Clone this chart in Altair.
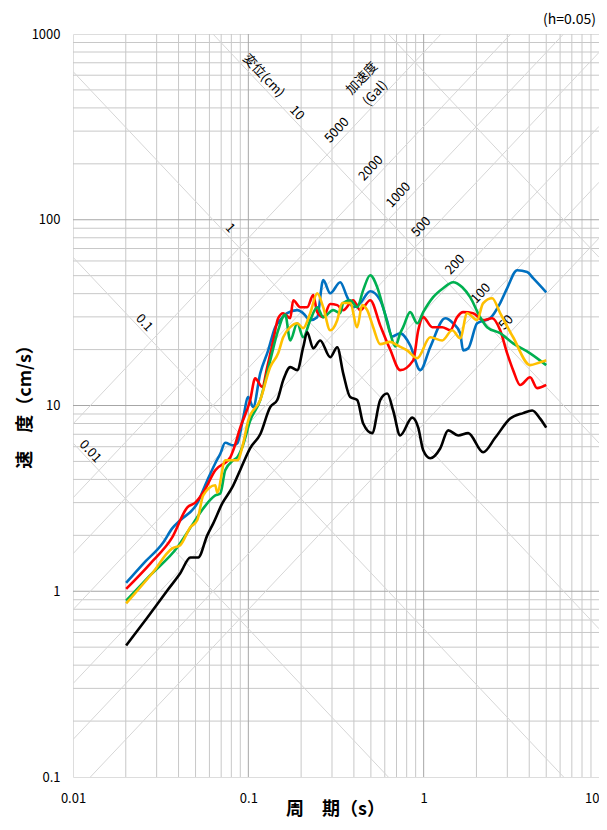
import altair as alt
import numpy as np
import pandas as pd

FONT = "Noto Sans CJK JP"

# ---------------- data ----------------
t_blue = [0.0201, 0.0252, 0.0327, 0.0368, 0.0409, 0.0511, 0.0583, 0.0648, 0.0692, 0.0738, 0.082, 0.0865,
          0.0935, 0.0998, 0.1066, 0.1169, 0.1298, 0.1423, 0.152, 0.1667, 0.1901, 0.2056, 0.2254, 0.2471,
          0.2673, 0.2931, 0.3342, 0.3664, 0.3963, 0.4345, 0.4955, 0.565, 0.6194, 0.66, 0.7345, 0.8375,
          0.956, 1.09, 1.327, 1.473, 1.615, 1.679, 1.795, 2.019, 2.393, 2.731, 3.0, 3.414, 3.892, 4.209, 5.0]
v_blue = [1.11, 1.41, 1.83, 2.18, 2.41, 2.97, 3.95, 4.89, 5.5, 6.3, 6.1, 6.25,
          8.6, 11.1, 9.8, 14.9, 19.8, 26.4, 28.8, 31.4, 32.6, 31.4, 28.8, 29.9,
          47.3, 40.2, 46.1, 38.3, 33.8, 35.6, 41.2, 36.9, 28.5, 23.5, 24.5, 21.1,
          15.5, 20.6, 29.5, 27.7, 24.5, 19.8, 20.3, 27.7, 29.5, 35.6, 43.0, 53.5, 52.3, 48.5, 40.7]

t_red = [0.0201, 0.0276, 0.0368, 0.0449, 0.0498, 0.0553, 0.0648, 0.0789, 0.082, 0.0899, 0.1025, 0.1094,
         0.12, 0.1282, 0.1387, 0.1479, 0.1581, 0.1734, 0.1803, 0.1977, 0.2168, 0.2344, 0.2471, 0.2673,
         0.2931, 0.3214, 0.3476, 0.3963, 0.4345, 0.4955, 0.565, 0.644, 0.7345, 0.8718, 0.931, 0.994,
         1.119, 1.276, 1.416, 1.553, 1.679, 1.915, 2.183, 2.459, 2.731, 2.994, 3.238, 3.551, 4.047,
         4.438, 5.0]
v_red = [1.03, 1.41, 1.95, 2.83, 3.0, 3.4, 4.48, 5.26, 5.74, 7.6, 10.7, 14.0,
         12.6, 16.1, 22.4, 29.5, 31.4, 29.5, 36.9, 33.8, 33.8, 39.3, 31.8, 29.9,
         35.2, 34.7, 32.6, 36.9, 32.6, 36.9, 27.0, 20.0, 15.5, 17.5, 25.4, 29.9,
         26.4, 26.4, 25.4, 29.9, 31.8, 31.4, 28.8, 29.5, 25.4, 19.1, 15.5, 12.9, 14.2,
         12.4, 12.9]

t_green = [0.0201, 0.0276, 0.0393, 0.0485, 0.0553, 0.0648, 0.0692, 0.0738, 0.082, 0.0865, 0.0923, 0.1025,
           0.1169, 0.1333, 0.1479, 0.1622, 0.1734, 0.1901, 0.2056, 0.2254, 0.2471, 0.2673, 0.3048, 0.3342,
           0.3476, 0.381, 0.4178, 0.4519, 0.4955, 0.5433, 0.5875, 0.6442, 0.69, 0.7345, 0.7638, 0.8375,
           0.9193, 0.994, 1.133, 1.291, 1.473, 1.66, 1.841, 2.099, 2.301, 2.731, 3.238, 4.047, 5.0]
v_green = [0.89, 1.22, 1.72, 2.32, 2.79, 3.28, 3.36, 4.48, 5.07, 5.26, 5.96, 8.3,
           10.7, 17.5, 25.4, 30.9, 22.4, 27.7, 23.3, 28.8, 33.8, 29.9, 32.6, 31.4,
           35.6, 36.9, 33.8, 41.8, 50.3, 43.3, 33.8, 24.5, 20.8, 24.5, 26.4, 31.8,
           27.7, 31.8, 38.3, 42.8, 46.1, 43.3, 38.3, 29.9, 26.4, 24.5, 21.6, 19.1, 16.5]

t_orange = [0.0201, 0.0283, 0.0368, 0.0409, 0.0467, 0.0511, 0.0553, 0.0648, 0.0665, 0.0738, 0.0865, 0.0935,
            0.0998, 0.1169, 0.1333, 0.1479, 0.1581, 0.1734, 0.1901, 0.2056, 0.2254, 0.2471, 0.2673, 0.2931,
            0.3214, 0.3428, 0.381, 0.4178, 0.4457, 0.4764, 0.5153, 0.565, 0.644, 0.706, 0.805, 0.919,
            1.09, 1.276, 1.455, 1.615, 1.77, 2.019, 2.183, 2.459, 2.731, 3.238, 4.047, 4.615, 5.0]
v_orange = [0.86, 1.25, 1.7, 1.77, 2.21, 2.41, 3.28, 3.72, 3.4, 5.07, 5.07, 6.25,
            8.3, 10.7, 16.1, 19.1, 23.3, 26.4, 27.7, 26.1, 31.4, 40.2, 33.8, 25.4,
            28.8, 35.6, 35.6, 26.4, 34.7, 32.6, 26.4, 21.4, 22.0, 21.1, 19.8, 18.0,
            23.3, 22.4, 25.4, 23.0, 31.4, 28.8, 35.6, 37.8, 31.4, 23.3, 16.5, 17.1, 17.5]

t_black = [0.0201, 0.0265, 0.0345, 0.0409, 0.0467, 0.0518, 0.0583, 0.0631, 0.071, 0.0809, 0.0899, 0.1025,
           0.1169, 0.1333, 0.1462, 0.1581, 0.1734, 0.1901, 0.2056, 0.2168, 0.2344, 0.257, 0.2931, 0.3214,
           0.3476, 0.381, 0.4178, 0.4519, 0.5082, 0.565, 0.6194, 0.67, 0.7345, 0.8604, 0.931, 0.994,
           1.09, 1.242, 1.38, 1.574, 1.795, 2.183, 2.557, 3.114, 3.693, 4.159, 4.615, 5.0]
v_black = [0.51, 0.72, 1.01, 1.25, 1.52, 1.52, 2.0, 2.32, 2.97, 3.62, 4.5, 5.9,
           7.0, 9.8, 10.7, 13.7, 16.1, 15.5, 20.6, 24.8, 20.3, 22.4, 18.2, 20.6,
           14.9, 11.1, 10.7, 8.0, 7.1, 10.7, 11.6, 9.4, 6.9, 8.6, 7.6, 5.74,
           5.2, 5.87, 7.35, 6.9, 7.1, 5.6, 6.7, 8.5, 9.1, 9.4, 8.5, 7.6]

series = [
    ("s1", "#0070C0", t_blue, v_blue),
    ("s2", "#FF0000", t_red, v_red),
    ("s3", "#00B050", t_green, v_green),
    ("s4", "#FFC000", t_orange, v_orange),
    ("s5", "#000000", t_black, v_black),
]

# tripartite reference values
disp_values = [0.01, 0.1, 1, 10, 100]            # displacement (cm)
acc_values = [50, 100, 200, 500, 1000, 2000, 5000]  # acceleration (Gal)

disp_label_vals = [10, 1, 0.1, 0.01]
disp_label_T = [0.189, 0.0788, 0.0255, 0.01255]
acc_label_vals = [5000, 2000, 1000, 500, 200, 100, 50]
acc_label_T = [0.320, 0.500, 0.718, 0.968, 1.512, 2.12, 2.953]

x_ticks = [0.01, 0.1, 1, 10]
y_ticks = [0.1, 1, 10, 100, 1000]

# ---------------- scales / axes ----------------
T_MIN, T_MAX = 0.01, 10.0
V_MIN, V_MAX = 0.1, 1000.0
xscale = alt.Scale(type="log", domain=[T_MIN, T_MAX], nice=False)
yscale = alt.Scale(type="log", domain=[V_MIN, V_MAX], nice=False)

W, H = 526, 743

xaxis = alt.Axis(values=x_ticks, format="~g", grid=False, ticks=False, tickSize=0, domain=False,
                 labelFlush=False, labelOverlap=False, labelFontSize=13, labelPadding=15,
                 labelAlign=alt.ExprRef("datum.value >= 10 ? 'right' : 'center'"),
                 labelColor="#000000", labelFont=FONT,
                 title="周\u3000期（s）", titleFont=FONT, titleFontSize=18, titleFontWeight="bold",
                 titleX=262, titleY=32, titleBaseline="middle", titleAlign="center", titleColor="#000000")
yaxis = alt.Axis(values=y_ticks, format="~g", grid=False, ticks=False, tickSize=0, domain=False,
                 labelOverlap=False, labelFontSize=13, labelPadding=13, labelColor="#000000",
                 labelFont=FONT,
                 title="速\u3000度（cm/s）", titleFont=FONT, titleFontSize=18, titleFontWeight="bold",
                 titleX=-48, titleY=368, titleAngle=270, titleBaseline="middle", titleAlign="center",
                 titleColor="#000000")

# ---------------- grid ----------------
minor_T = [m * 10.0 ** k for k in (-2, -1, 0) for m in range(2, 10)]
major_T = [0.1, 1]
minor_V = [m * 10.0 ** k for k in (-1, 0, 1, 2) for m in range(2, 10)]
major_V = [1, 10, 100]

def vrules(vals, color):
    return alt.Chart(pd.DataFrame({"T": vals})).mark_rule(color=color, strokeWidth=1).encode(
        x=alt.X("T:Q", scale=xscale, axis=xaxis))

def hrules(vals, color):
    return alt.Chart(pd.DataFrame({"V": vals})).mark_rule(color=color, strokeWidth=1).encode(
        y=alt.Y("V:Q", scale=yscale, axis=yaxis))

grid_layers = [vrules(minor_T, "#c8c8c8"), hrules(minor_V, "#c8c8c8"),
               vrules(major_T, "#a6a6a6"), hrules(major_V, "#a6a6a6")]

# diagonal lines of the tripartite chart
diag = []
for d in disp_values:
    diag.append({"T": T_MIN, "V": 2 * np.pi * d / T_MIN, "T2": T_MAX, "V2": 2 * np.pi * d / T_MAX})
for a in acc_values:
    diag.append({"T": T_MIN, "V": a * T_MIN / (2 * np.pi), "T2": T_MAX, "V2": a * T_MAX / (2 * np.pi)})
diag_layer = alt.Chart(pd.DataFrame(diag)).mark_rule(color="#d6d6d6", strokeWidth=1, clip=True).encode(
    x=alt.X("T:Q", scale=xscale, axis=xaxis), y=alt.Y("V:Q", scale=yscale, axis=yaxis),
    x2="T2:Q", y2="V2:Q")

# ---------------- labels on diagonal lines ----------------
ANG = float(np.degrees(np.arctan(185.6 / 175.4)))
disp_lab = pd.DataFrame({
    "T": disp_label_T,
    "V": [2 * np.pi * d / t * 1.13 for d, t in zip(disp_label_vals, disp_label_T)],
    "txt": [("%g" % d) for d in disp_label_vals],
})
disp_lab = pd.concat([disp_lab, pd.DataFrame({"T": [0.1221], "V": [596.0], "txt": ["変位(cm)"]})])
acc_lab = pd.DataFrame({
    "T": acc_label_T,
    "V": [a * t / (2 * np.pi) * 1.19 for a, t in zip(acc_label_vals, acc_label_T)],
    "txt": [("%g" % a) for a in acc_label_vals],
})
acc_lab = pd.concat([acc_lab, pd.DataFrame({"T": [0.4446, 0.529], "V": [577.0, 479.0],
                                            "txt": ["加速度", "(Gal)"]})])

disp_text = alt.Chart(disp_lab).mark_text(angle=ANG, font=FONT, fontSize=13, color="#000000",
                                          align="center", baseline="middle").encode(
    x=alt.X("T:Q", scale=xscale, axis=xaxis), y=alt.Y("V:Q", scale=yscale, axis=yaxis), text="txt:N")
acc_text = alt.Chart(acc_lab).mark_text(angle=360 - ANG, font=FONT, fontSize=13, color="#000000",
                                        align="center", baseline="middle").encode(
    x=alt.X("T:Q", scale=xscale, axis=xaxis), y=alt.Y("V:Q", scale=yscale, axis=yaxis), text="txt:N")

# ---------------- response spectra ----------------
line_layers = []
for name, col, ts, vs in series:
    df = pd.DataFrame({"T": ts, "V": vs})
    line_layers.append(
        alt.Chart(df).mark_line(color=col, strokeWidth=2.6, interpolate="monotone").encode(
            x=alt.X("T:Q", scale=xscale, axis=xaxis), y=alt.Y("V:Q", scale=yscale, axis=yaxis),
            order="T:Q"))

title_text = alt.Chart(pd.DataFrame({"t": ["(h=0.05)"]})).mark_text(
    font=FONT, fontSize=14, color="#000000", align="right", baseline="middle").encode(
    x=alt.value(523), y=alt.value(-14), text="t:N")

chart = alt.layer(*grid_layers, diag_layer, disp_text, acc_text, *line_layers, title_text).properties(
    width=W, height=H,
    autosize=alt.AutoSizeParams(type="none"),
    padding={"left": 65, "top": 26, "right": 0, "bottom": 44},
).configure_view(stroke="#505050", strokeWidth=1.3).configure(background="#ffffff")

chart.save("out.html", embed_options={"renderer": "svg", "actions": False})
